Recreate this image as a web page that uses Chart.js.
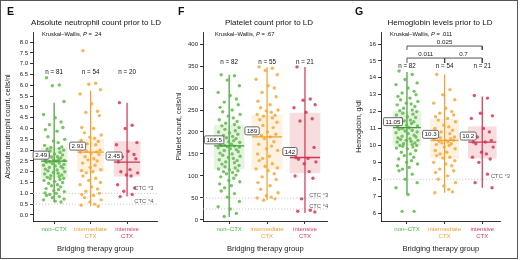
<!DOCTYPE html>
<html>
<head>
<meta charset="utf-8">
<script src="https://cdn.jsdelivr.net/npm/chart.js@4.4.1/dist/chart.umd.min.js"></script>
<style>
  body { margin: 0; background: #fff; }
  #frame { position: absolute; left: 0; top: 0; width: 518px; height: 259px; border: 1px solid #555; box-sizing: border-box; }
  canvas { position: absolute; top: 0; }
</style>
</head>
<body>
<div id="frame"></div>
<canvas id="chartE" width="172" height="258" style="left:0"></canvas>
<canvas id="chartF" width="172" height="258" style="left:172px"></canvas>
<canvas id="chartG" width="172" height="258" style="left:344px"></canvas>
<script>
// groups + colours
const GROUP_LABELS = [['non–CTX'], ['intermediate', 'CTX'], ['intensive', 'CTX']];
const TICK_COLORS = ['#4cae44', '#f0a030', '#d2385a'];
const LINE_COLORS = ['#3f9d3a', '#f0a02a', '#cf3552'];
const POINT_COLORS = ['rgba(96,186,74,0.85)', 'rgba(245,168,58,0.85)', 'rgba(212,56,82,0.85)'];
const BOX_COLORS = ['rgba(130,195,100,0.2)', 'rgba(245,170,70,0.17)', 'rgba(222,100,110,0.22)'];
const JITTER = [-0.21, 0.14, -0.05, 0.27, -0.29, 0.03, 0.19, -0.13, 0.24, -0.24, 0.08, -0.17, 0.29,
  -0.02, 0.11, -0.26, 0.21, -0.09, 0.14, -0.19, 0.26, -0.11, 0.16, -0.28, 0.01, 0.23, -0.15, 0.09,
  -0.07, 0.18, -0.22, 0.12, -0.01, 0.28, -0.25, 0.06, -0.12];

// --- E: absolute neutrophil count ---
const E_NON = [6.35, 6.02, 5.98, 5.25, 4.65, 4.5, 4.3, 4.18, 4.05, 3.95, 3.88, 3.62, 3.5, 3.42, 3.35,
  3.22, 3.15, 3.12, 3.08, 3.05, 3.0, 2.96, 2.9, 2.86, 2.82, 2.78, 2.74, 2.7, 2.68, 2.64, 2.6, 2.57,
  2.55, 2.52, 2.5, 2.49, 2.46, 2.44, 2.4, 2.38, 2.34, 2.3, 2.27, 2.24, 2.2, 2.17, 2.12, 2.08, 2.04,
  2.0, 1.97, 1.93, 1.9, 1.85, 1.82, 1.78, 1.74, 1.7, 1.68, 1.64, 1.6, 1.55, 1.5, 1.46, 1.4, 1.35, 1.3,
  1.22, 1.18, 1.12, 1.08, 1.02, 1.0, 0.95, 0.9, 0.85, 0.8, 0.74, 0.7, 0.64, 0.6];
const E_INT = [7.6, 6.1, 6.05, 5.8, 5.6, 5.15, 4.8, 4.75, 4.6, 4.05, 4.0, 3.8, 3.7, 3.6, 3.55, 3.45,
  3.4, 3.3, 3.25, 3.1, 3.0, 2.95, 2.92, 2.9, 2.85, 2.8, 2.7, 2.6, 2.55, 2.5, 2.4, 2.3, 2.2, 2.1, 2.05,
  2.0, 1.95, 1.8, 1.7, 1.6, 1.5, 1.4, 1.3, 1.2, 1.1, 1.0, 0.95, 0.9, 0.8, 0.7, 0.6, 0.5, 0.45, 0.4];
const E_HIGH = [5.2, 4.15, 4.0, 3.35, 3.25, 2.95, 2.8, 2.7, 2.6, 2.45, 2.1, 2.0, 1.95, 1.85, 1.8, 1.4,
  1.25, 1.1, 0.95, 0.85];
const E_Q1 = [1.7, 2.0, 1.8];
const E_Q3 = [3.1, 3.5, 3.4];
const E_LO = [0.6, 0.4, 0.85];
const E_HI = [5.2, 5.75, 5.2];
const E_MED = [2.49, 2.91, 2.45];
const E_N = [81, 54, 20];
const E_TICKS = [0, 0.5, 1, 1.5, 2, 2.5, 3, 3.5, 4, 4.5, 5, 5.5, 6, 6.5, 7, 7.5, 8];
const E_CTC = [1, 0.5];

// --- F: platelet count ---
const F_NON = [330, 328, 318, 305, 290, 283, 275, 268, 262, 256, 250, 246, 240, 236, 232, 228, 224,
  220, 217, 214, 210, 206, 203, 200, 198, 195, 192, 190, 187, 185, 182, 180, 178, 176, 174, 172, 170,
  169, 168, 167, 166, 164, 162, 160, 158, 155, 152, 150, 147, 145, 142, 140, 137, 135, 132, 130, 127,
  124, 121, 118, 116, 114, 112, 110, 108, 105, 102, 98, 95, 90, 87, 82, 78, 73, 66, 60, 52, 42, 30,
  25, 15, 8];
const F_INT = [348, 345, 340, 330, 320, 305, 300, 290, 280, 270, 262, 255, 250, 248, 245, 240, 238,
  236, 232, 228, 222, 215, 210, 205, 200, 195, 192, 189, 185, 178, 172, 168, 162, 158, 150, 145, 140,
  135, 128, 122, 118, 116, 112, 105, 98, 92, 85, 78, 70, 62, 55, 52, 50, 48, 45];
const F_HIGH = [348, 275, 272, 262, 255, 245, 230, 225, 165, 142, 140, 138, 132, 128, 110, 100, 95,
  48, 22, 20, 18];
const F_Q1 = [116, 116, 107];
const F_Q3 = [216, 238, 243];
const F_LO = [7, 45, 16];
const F_HI = [330, 348, 348];
const F_MED = [168.5, 189, 142];
const F_N = [82, 55, 21];
const F_TICKS = [0, 50, 100, 150, 200, 250, 300, 350, 400];
const F_CTC = [50, 25];

// --- G: hemoglobin ---
const G_NON = [14.4, 14.2, 13.9, 13.7, 13.6, 13.4, 13.2, 13.1, 13.0, 12.9, 12.8, 12.7, 12.6, 12.5,
  12.45, 12.4, 12.3, 12.2, 12.1, 12.05, 12.0, 11.9, 11.85, 11.8, 11.7, 11.65, 11.6, 11.5, 11.45, 11.4,
  11.35, 11.3, 11.2, 11.15, 11.1, 11.05, 11.0, 10.95, 10.9, 10.85, 10.8, 10.75, 10.7, 10.6, 10.55,
  10.5, 10.45, 10.4, 10.35, 10.3, 10.3, 10.25, 10.2, 10.15, 10.1, 10.05, 10.0, 10.0, 9.95, 9.9, 9.85,
  9.8, 9.7, 9.6, 9.5, 9.4, 9.3, 9.2, 9.1, 9.0, 8.9, 8.8, 8.7, 8.6, 8.5, 8.3, 8.0, 7.8, 7.5, 7.1, 6.1, 6.1];
const G_INT = [14.2, 13.3, 13.0, 12.7, 12.5, 12.2, 12.0, 11.9, 11.8, 11.7, 11.6, 11.5, 11.4, 11.2,
  11.1, 11.0, 10.9, 10.8, 10.7, 10.6, 10.5, 10.45, 10.4, 10.35, 10.3, 10.3, 10.25, 10.2, 10.15, 10.1,
  10.05, 10.0, 9.9, 9.8, 9.7, 9.6, 9.5, 9.4, 9.3, 9.25, 9.1, 9.0, 8.9, 8.8, 8.6, 8.5, 8.4, 8.2, 8.0,
  7.8, 7.6, 7.4, 7.2, 7.25];
const G_HIGH = [12.95, 12.8, 11.9, 11.75, 11.6, 11.0, 10.8, 10.5, 10.3, 10.2, 10.2, 10.1, 9.9, 9.6,
  9.5, 9.3, 9.2, 9.0, 8.3, 7.8, 7.5];
const G_Q1 = [10.0, 9.25, 9.25];
const G_Q3 = [12.0, 11.55, 11.1];
const G_LO = [7.1, 7.2, 7.5];
const G_HI = [14.35, 14.2, 12.9];
const G_MED = [11.05, 10.3, 10.2];
const G_N = [82, 54, 21];
const G_TICKS = [6, 7, 8, 9, 10, 11, 12, 13, 14, 15, 16];
const G_CTC = [8];
// pairwise comparisons: [from, to, p]
const G_PAIRS = [[0, 2, '0.025'], [0, 1, '0.011'], [1, 2, '0.7']];

const FONT = '"Liberation Sans", Arial, sans-serif';
Chart.defaults.font.family = FONT;
Chart.defaults.color = '#222';
Chart.defaults.animation = false;

// text layer: titles, n labels, median boxes, CTC labels, p-values
const annotate = {
  id: 'annotate',
  afterDatasetsDraw(chart, args, o) {
    const { ctx, chartArea, scales: { x, y } } = chart;
    ctx.save();
    ctx.fillStyle = '#111';
    ctx.textBaseline = 'middle';

    ctx.font = 'bold 10.5px ' + FONT;
    ctx.textAlign = 'left';
    ctx.fillText(o.letter, o.letterX, 12);

    ctx.font = '8px ' + FONT;
    ctx.textAlign = 'center';
    ctx.fillText(o.title, o.titleX, 23);

    // Kruskal–Wallis line with italic P
    let kx = chartArea.left + o.kwDx;
    ctx.textAlign = 'left';
    [['Kruskal–Wallis, ', ''], ['P', 'italic '], [' = ' + o.kwP, '']].forEach(([t, st]) => {
      ctx.font = st + '5.8px ' + FONT;
      ctx.fillText(t, kx, 34);
      kx += ctx.measureText(t).width;
    });

    ctx.font = '6.3px ' + FONT;
    ctx.textAlign = 'center';
    o.n.forEach((n, i) => ctx.fillText('n = ' + n, x.getPixelForValue(i), y.getPixelForValue(o.nY)));

    // median value tags
    ctx.font = '6.2px ' + FONT;
    o.med.forEach((m, i) => {
      const t = String(m);
      const w = ctx.measureText(t).width + 4, h = 8;
      const cx = x.getPixelForValue(i) - o.boxW / 2;
      const cy = y.getPixelForValue(m) - 6;
      ctx.beginPath();
      ctx.roundRect(cx - w / 2, cy - h / 2, w, h, 1.5);
      ctx.fillStyle = '#fff';
      ctx.fill();
      ctx.lineWidth = 0.8;
      ctx.strokeStyle = '#444';
      ctx.stroke();
      ctx.fillStyle = '#222';
      ctx.fillText(t, cx, cy + 0.3);
    });

    ctx.font = '5.8px ' + FONT;
    ctx.fillStyle = '#555';
    ctx.textAlign = 'left';
    o.ctc.forEach(c => ctx.fillText(c.text, x.getPixelForValue(c.x), y.getPixelForValue(c.y)));

    ctx.fillStyle = '#222';
    ctx.font = '6.2px ' + FONT;
    ctx.textAlign = 'center';
    (o.pLabels || []).forEach(p => ctx.fillText(p.text, x.getPixelForValue(p.x), y.getPixelForValue(p.y)));
    ctx.restore();
  }
};

function panel(id, p) {
  const datasets = [];
  p.ref.forEach(r => datasets.push({
    type: 'line', data: [{ x: p.xMin, y: r }, { x: p.xMax, y: r }],
    borderColor: '#bdbdbd', borderWidth: 0.8, borderDash: [1.2, 1.8], pointRadius: 0, order: 10
  }));
  datasets.push({
    type: 'bar', data: [0, 1, 2].map(i => ({ x: i, y: [p.q1[i], p.q3[i]] })),
    backgroundColor: BOX_COLORS, barThickness: p.boxW, order: 9
  });
  [0, 1, 2].forEach(i => datasets.push({
    type: 'line', data: [{ x: i, y: p.lo[i] }, { x: i, y: p.hi[i] }],
    borderColor: LINE_COLORS[i], borderWidth: 1.2, pointRadius: 0, order: 8
  }));
  p.values.forEach((vals, i) => datasets.push({
    type: 'scatter', data: vals.map((v, k) => ({ x: i + JITTER[k % JITTER.length], y: v })),
    pointBackgroundColor: POINT_COLORS[i], pointBorderWidth: 0, pointRadius: 1.7, order: 2
  }));
  datasets.push({
    type: 'scatter', data: p.med.map((m, i) => ({ x: i, y: m })),
    pointStyle: 'line', pointRadius: p.boxW / 2, pointBorderColor: LINE_COLORS, pointBorderWidth: 1.3, order: 1
  });
  (p.brackets || []).forEach(b => datasets.push({
    type: 'line', data: b, borderColor: '#444', borderWidth: 0.9, pointRadius: 0, order: 1
  }));

  const axisGrid = { drawOnChartArea: false, color: '#000', tickLength: 3, lineWidth: 0.8, offset: false };
  new Chart(document.getElementById(id), {
    type: 'scatter',
    data: { datasets },
    plugins: [annotate],
    options: {
      responsive: false,
      layout: { padding: { left: p.padL, right: p.padR, top: 32, bottom: 4 } },
      plugins: { legend: { display: false }, tooltip: { enabled: false }, annotate: p.text },
      scales: {
        x: {
          type: 'linear', min: p.xMin, max: p.xMax, offset: false,
          afterBuildTicks: s => { s.ticks = [0, 1, 2].map(v => ({ value: v })); },
          afterFit: s => { s.height = 33; },
          ticks: {
            callback: (v, i) => GROUP_LABELS[i], color: c => TICK_COLORS[c.index],
            font: { size: 6 }, padding: 2, maxRotation: 0, autoSkip: false
          },
          grid: axisGrid, border: { color: '#000', width: 0.8 },
          title: { display: true, text: 'Bridging therapy group', font: { size: 7.6 }, color: '#222', padding: { top: 2, bottom: 1 } }
        },
        y: {
          type: 'linear', min: p.yMin, max: p.yMax, offset: false,
          afterBuildTicks: s => { s.ticks = p.yTicks.map(v => ({ value: v })); },
          afterFit: s => { s.width = p.yAxisW; },
          ticks: { callback: p.yFmt, font: { size: 6 }, padding: 2, color: '#222' },
          grid: axisGrid, border: { color: '#000', width: 0.8 },
          title: { display: true, text: p.yTitle, font: { size: 7 }, color: '#222', padding: { top: 0, bottom: 2 } }
        }
      }
    }
  });
}

panel('chartE', {
  xMin: -0.58, xMax: 2.84, yMin: -0.28, yMax: 8.47, yTicks: E_TICKS, yFmt: v => v.toFixed(1),
  padL: 4, padR: 4, yAxisW: 29, boxW: 26,
  yTitle: 'Absolute neutrophil count, cells/nl',
  values: [E_NON, E_INT, E_HIGH], q1: E_Q1, q3: E_Q3, lo: E_LO, hi: E_HI, med: E_MED, ref: E_CTC,
  text: {
    letter: 'E', letterX: 7, title: 'Absolute neutrophil count prior to LD', titleX: 96,
    kwDx: 9, kwP: '.24', n: E_N, nY: 6.6, med: E_MED, boxW: 26,
    ctc: [{ text: 'CTC °3', x: 2.2, y: 1.25 }, { text: 'CTC °4', x: 2.2, y: 0.65 }]
  }
});

panel('chartF', {
  xMin: -0.69, xMax: 2.6, yMin: -2.3, yMax: 427.3, yTicks: F_TICKS, yFmt: v => String(v),
  padL: 3, padR: 3, yAxisW: 28, boxW: 30,
  yTitle: 'Platelet count, cells/nl',
  values: [F_NON, F_INT, F_HIGH], q1: F_Q1, q3: F_Q3, lo: F_LO, hi: F_HI, med: F_MED, ref: F_CTC,
  text: {
    letter: 'F', letterX: 6, title: 'Platelet count prior to LD', titleX: 97,
    kwDx: 12, kwP: '.67', n: F_N, nY: 359, med: F_MED, boxW: 30,
    ctc: [{ text: 'CTC °3', x: 2.11, y: 57 }, { text: 'CTC °4', x: 2.11, y: 32 }]
  }
});

const BR_TOP = 15.88, BR_TOP_FOOT = 15.65, BR_LOW = 15.17, BR_LOW_FOOT = 14.88;
panel('chartG', {
  xMin: -0.69, xMax: 2.49, yMin: 5.53, yMax: 16.71, yTicks: G_TICKS, yFmt: v => String(v),
  padL: 11, padR: 11, yAxisW: 26, boxW: 28,
  yTitle: 'Hemoglobin, g/dl',
  values: [G_NON, G_INT, G_HIGH], q1: G_Q1, q3: G_Q3, lo: G_LO, hi: G_HI, med: G_MED, ref: G_CTC,
  brackets: G_PAIRS.map(([a, b], k) => {
    const top = k === 0 ? BR_TOP : BR_LOW, foot = k === 0 ? BR_TOP_FOOT : BR_LOW_FOOT;
    return [{ x: a, y: foot }, { x: a, y: top }, { x: b, y: top }, { x: b, y: foot }];
  }),
  text: {
    letter: 'G', letterX: 11, title: 'Hemoglobin levels prior to LD', titleX: 96,
    kwDx: 9, kwP: '.011', n: G_N, nY: 14.68, med: G_MED, boxW: 28,
    ctc: [{ text: 'CTC °3', x: 2.23, y: 8.19 }],
    pLabels: G_PAIRS.map(([a, b, t], k) => ({ text: t, x: (a + b) / 2, y: k === 0 ? 16.12 : 15.41 }))
  }
});
</script>
</body>
</html>
